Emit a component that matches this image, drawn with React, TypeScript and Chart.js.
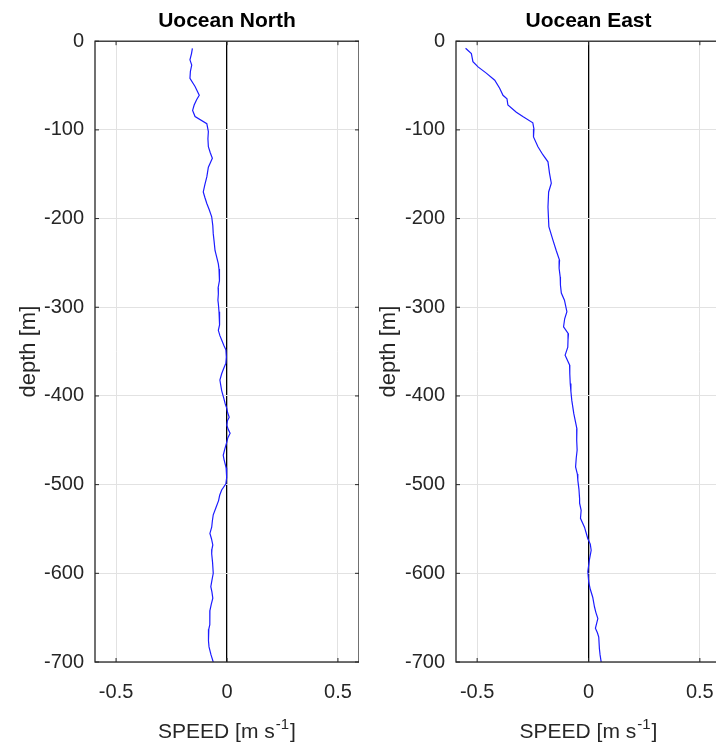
import React, { useEffect, useRef } from 'react';
import { Chart, registerables } from 'chart.js';

Chart.register(...registerables);

// ---- data ----
const NORTH_DEPTH = [-8, -14, -21, -27, -34, -42, -51, -61, -66, -72, -78, -85, -93, -102, -110, -119, -126, -132, -137, -142, -153, -162, -170, -176, -183, -190, -198, -208, -217, -226, -236, -243, -251, -257, -262, -270, -278, -285, -292, -296, -305, -314, -320, -326, -332, -337, -343, -348, -356, -363, -369, -375, -382, -388, -394, -403, -409, -414, -419, -424, -428, -433, -438, -442, -447, -452, -460, -467, -472, -476, -481, -486, -492, -499, -506, -512, -518, -526, -534, -541, -548, -555, -561, -568, -573, -578, -588, -600, -608, -615, -621, -628, -635, -642, -650, -658, -663, -668, -676, -683, -692, -700];
const NORTH_SPEED = [-0.156, -0.16, -0.167, -0.159, -0.165, -0.167, -0.144, -0.125, -0.137, -0.148, -0.155, -0.144, -0.091, -0.084, -0.086, -0.084, -0.075, -0.066, -0.075, -0.084, -0.091, -0.1, -0.107, -0.1, -0.091, -0.08, -0.069, -0.064, -0.062, -0.058, -0.054, -0.047, -0.039, -0.036, -0.032, -0.036, -0.04, -0.039, -0.041, -0.039, -0.036, -0.032, -0.035, -0.039, -0.032, -0.024, -0.014, -0.005, -0.003, -0.005, -0.015, -0.024, -0.032, -0.028, -0.024, -0.014, -0.008, -0.001, 0.003, 0.01, 0.002, -0.001, 0.006, 0.014, 0.004, -0.001, -0.01, -0.017, -0.013, -0.009, -0.004, -0.001, -0.002, -0.005, -0.024, -0.033, -0.038, -0.05, -0.062, -0.066, -0.069, -0.077, -0.07, -0.064, -0.068, -0.069, -0.065, -0.062, -0.068, -0.073, -0.068, -0.064, -0.071, -0.077, -0.078, -0.077, -0.082, -0.084, -0.083, -0.081, -0.072, -0.062];

const EAST_DEPTH = [-8, -14, -23, -29, -36, -44, -53, -61, -65, -72, -80, -85, -92, -99, -108, -119, -128, -136, -149, -160, -170, -187, -209, -224, -236, -247, -256, -266, -275, -284, -292, -305, -313, -322, -330, -337, -345, -354, -365, -375, -386, -395, -405, -420, -437, -450, -461, -470, -480, -488, -495, -505, -516, -521, -529, -538, -548, -561, -567, -574, -585, -598, -610, -618, -627, -638, -644, -651, -657, -662, -667, -672, -685, -692, -700];
const EAST_SPEED = [-0.552, -0.526, -0.519, -0.496, -0.459, -0.421, -0.399, -0.384, -0.366, -0.362, -0.324, -0.295, -0.25, -0.245, -0.247, -0.227, -0.205, -0.182, -0.175, -0.167, -0.179, -0.182, -0.178, -0.16, -0.145, -0.13, -0.132, -0.127, -0.126, -0.122, -0.108, -0.097, -0.107, -0.112, -0.09, -0.092, -0.093, -0.105, -0.085, -0.084, -0.082, -0.079, -0.075, -0.066, -0.052, -0.053, -0.051, -0.055, -0.058, -0.05, -0.048, -0.043, -0.04, -0.04, -0.033, -0.036, -0.018, -0.003, 0.008, 0.012, 0.004, -0.003, 0.001, 0.008, 0.019, 0.027, 0.033, 0.042, 0.036, 0.031, 0.04, 0.046, 0.049, 0.052, 0.057];

const X_TICKS = [-0.5, 0, 0.5];
const Y_TICKS = [0, -100, -200, -300, -400, -500, -600, -700];
const X_LIMITS = [-0.595, 0.595];
const Y_LIMITS = [-700, 0];
const TITLES = ['Uocean North', 'Uocean East'];
const Y_LABEL = 'depth [m]';
const X_LABEL_MAIN = 'SPEED [m s';
const X_LABEL_SUP = '-1';
const X_LABEL_END = ']';

const FONT = '"Liberation Sans", Arial, Helvetica, sans-serif';
const AXIS_COLOR = '#262626';
const GRID_COLOR = '#e2e2e2';

const boxPlugin = {
  id: 'matlabBox',
  afterDraw(chart: any) {
    const { ctx, chartArea: a, scales } = chart;
    ctx.save();
    ctx.strokeStyle = AXIS_COLOR;
    ctx.lineWidth = 1.3;
    ctx.strokeRect(a.left, a.top, a.right - a.left, a.bottom - a.top);
    ctx.lineWidth = 1;
    const tl = 4;
    ctx.beginPath();
    for (const v of Y_TICKS) {
      const y = scales.y.getPixelForValue(v);
      ctx.moveTo(a.left, y); ctx.lineTo(a.left + tl, y);
      ctx.moveTo(a.right, y); ctx.lineTo(a.right - tl, y);
    }
    for (const v of X_TICKS) {
      const x = scales.x.getPixelForValue(v);
      ctx.moveTo(x, a.bottom); ctx.lineTo(x, a.bottom - tl);
      ctx.moveTo(x, a.top); ctx.lineTo(x, a.top + tl);
    }
    ctx.stroke();
    // x axis label with superscript
    const big = `21px ${FONT}`;
    const small = `15px ${FONT}`;
    ctx.fillStyle = AXIS_COLOR;
    ctx.textBaseline = 'alphabetic';
    ctx.textAlign = 'left';
    ctx.font = big;
    const w1 = ctx.measureText(X_LABEL_MAIN).width;
    const w3 = ctx.measureText(X_LABEL_END).width;
    ctx.font = small;
    const w2 = ctx.measureText(X_LABEL_SUP).width;
    const total = w1 + w2 + w3 + 2;
    const cx = (a.left + a.right) / 2;
    let x = cx - total / 2;
    const base = 738;
    ctx.font = big;
    ctx.fillText(X_LABEL_MAIN, x, base);
    x += w1 + 1;
    ctx.font = small;
    ctx.fillText(X_LABEL_SUP, x, base - 9);
    x += w2 + 1;
    ctx.font = big;
    ctx.fillText(X_LABEL_END, x, base);
    ctx.restore();
  },
};

function Panel(props: { title: string; depth: number[]; speed: number[]; left: number; width: number; yWidth: number }) {
  const ref = useRef<HTMLCanvasElement>(null);
  useEffect(() => {
    if (!ref.current) return;
    const points = props.depth.map((d, i) => ({ x: props.speed[i], y: d }));
    const chart = new Chart(ref.current, {
      type: 'scatter',
      data: {
        datasets: [
          {
            data: points,
            showLine: true,
            borderColor: '#1c1cff',
            backgroundColor: '#1c1cff',
            borderWidth: 1.2,
            pointRadius: 0,
            tension: 0,
          },
        ],
      },
      options: {
        responsive: false,
        animation: false,
        devicePixelRatio: 1,
        layout: { padding: 0 },
        plugins: {
          legend: { display: false },
          tooltip: { enabled: false },
          title: {
            display: true,
            text: props.title,
            fullSize: false,
            color: '#000',
            font: { family: FONT, size: 21, weight: 'bold' },
            padding: { top: 9, bottom: 7 },
          },
        },
        scales: {
          x: {
            type: 'linear',
            min: X_LIMITS[0],
            max: X_LIMITS[1],
            afterBuildTicks: (s: any) => {
              s.ticks = X_TICKS.map((v) => ({ value: v }));
            },
            afterFit: (s: any) => {
              s.height = 85;
              s.paddingLeft = 0;
              s.paddingRight = 0;
            },
            border: { display: false },
            grid: {
              drawTicks: false,
              color: (c: any) => (c.tick && c.tick.value === 0 ? '#000' : GRID_COLOR),
              lineWidth: (c: any) => (c.tick && c.tick.value === 0 ? 1.3 : 1),
            },
            ticks: {
              padding: 18,
              color: AXIS_COLOR,
              font: { family: FONT, size: 20 },
              maxRotation: 0,
              autoSkip: false,
              callback: (v: any) => String(v),
            },
          },
          y: {
            type: 'linear',
            min: Y_LIMITS[0],
            max: Y_LIMITS[1],
            afterBuildTicks: (s: any) => {
              s.ticks = Y_TICKS.map((v) => ({ value: v }));
            },
            afterFit: (s: any) => {
              s.width = props.yWidth;
              s.paddingTop = 0;
              s.paddingBottom = 0;
            },
            border: { display: false },
            grid: { drawTicks: false, color: GRID_COLOR, lineWidth: 1 },
            ticks: {
              padding: 11,
              color: AXIS_COLOR,
              font: { family: FONT, size: 20 },
              autoSkip: false,
              callback: (v: any) => String(v),
            },
            title: {
              display: true,
              text: Y_LABEL,
              color: AXIS_COLOR,
              font: { family: FONT, size: 22 },
              padding: { top: 16, bottom: 0 },
            },
          },
        },
      } as any,
      plugins: [boxPlugin],
    });
    return () => chart.destroy();
  }, []);
  return (
    <canvas
      ref={ref}
      width={props.width}
      height={747}
      style={{ position: 'absolute', left: props.left, top: 0, width: props.width, height: 747 }}
    />
  );
}

export default function App() {
  return (
    <div
      style={{
        position: 'fixed',
        left: 0,
        top: 0,
        width: 716,
        height: 747,
        overflow: 'hidden',
        background: '#fff',
      }}
    >
      <Panel title={TITLES[0]} depth={NORTH_DEPTH} speed={NORTH_SPEED} left={0} width={359} yWidth={95} />
      <Panel title={TITLES[1]} depth={EAST_DEPTH} speed={EAST_SPEED} left={360} width={361} yWidth={96} />
    </div>
  );
}
